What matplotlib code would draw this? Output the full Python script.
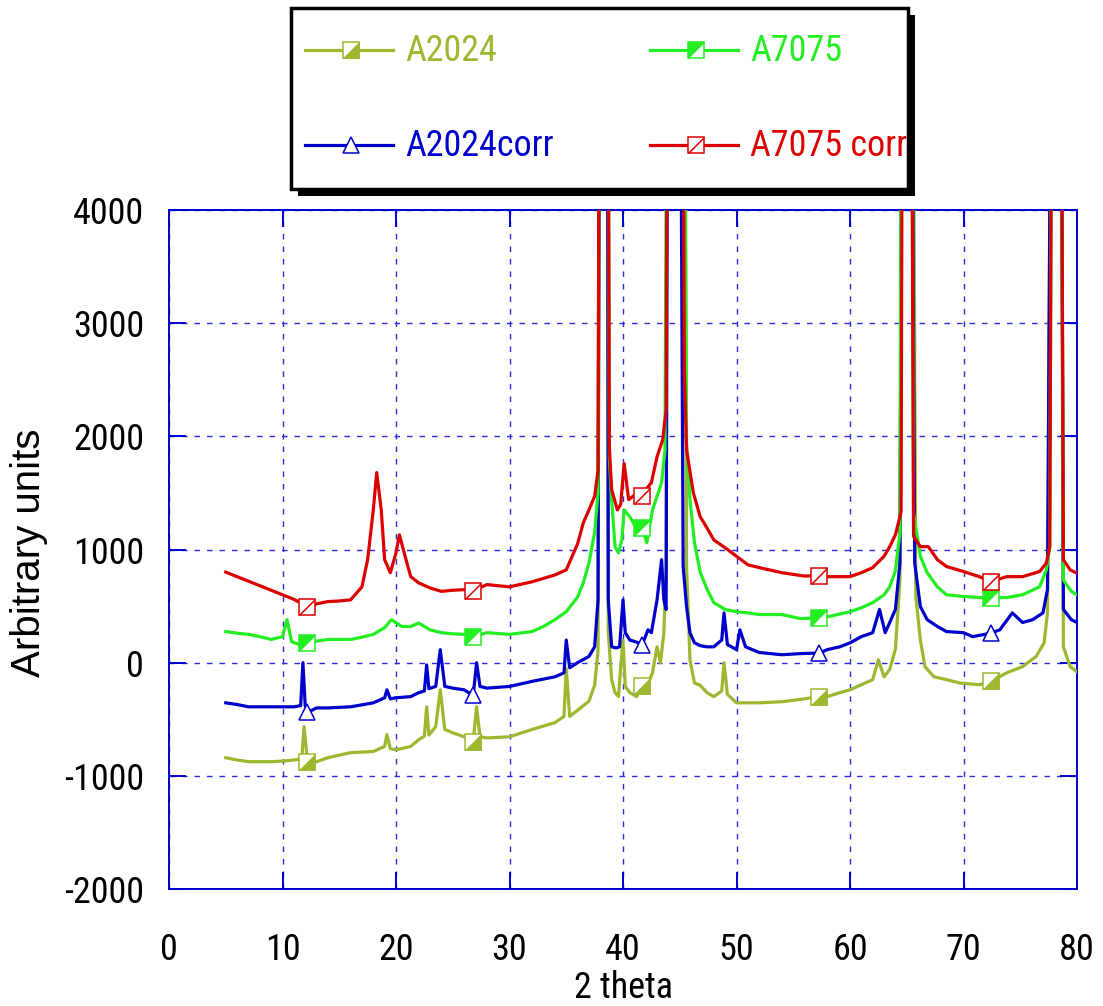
import numpy as np
import matplotlib
matplotlib.use("Agg")
import matplotlib.pyplot as plt
from matplotlib import font_manager as fm
from matplotlib.path import Path
from matplotlib.patches import Rectangle

# ---------------- data (2 theta in degrees, intensity in arbitrary units) ----------------
MARKER_X = [12.2, 26.8, 41.7, 57.3, 72.4]

a7075corr_x = [5, 6, 7, 8, 9, 10, 11, 12.2, 13, 14, 15, 16, 17, 17.5, 18, 18.3, 18.7, 19, 19.5, 20,
               20.3, 20.8, 21.3, 22, 23, 24, 25, 26, 26.8, 28, 30, 32, 34, 35, 36, 36.5, 37, 37.5,
               37.8, 38.0, 38.6, 38.8, 39.0, 39.5, 39.8, 40.1, 40.5, 41.0, 41.7, 42.0, 42.5, 43.0,
               43.5, 43.8, 44.0, 45.2, 45.4, 45.6, 46.2, 46.8, 47.4, 48, 49, 50, 51, 52, 54, 56,
               57.3, 58, 60, 61, 62, 63, 63.5, 64, 64.5, 64.7, 65.3, 65.6, 66.2, 66.9, 67.7, 68.5,
               70, 71.4, 72.4, 73.8, 75.2, 76.7, 77.3, 77.6, 77.9, 78.5, 78.8, 79.4, 80]
a7075corr_y = [800, 760, 720, 680, 640, 600, 560, 495, 520, 540, 545, 555, 670, 910, 1350, 1680, 1350,
               910, 795, 970, 1130, 940, 760, 705, 660, 630, 640, 645, 635, 690, 670, 715, 775, 820,
               1050, 1235, 1350, 1470, 1700, 9000, 9000, 1900, 1530, 1350, 1400, 1760, 1440, 1480,
               1475, 1530, 1590, 1820, 1970, 2240, 9000, 9000, 2600, 1880, 1500, 1290, 1190, 1085,
               1015, 940, 865, 840, 795, 765, 770, 760, 760, 795, 840, 940, 1025, 1130, 1330, 9000,
               9000, 1115, 1025, 1025, 910, 850, 805, 760, 715, 760, 760, 805, 880, 1025, 9000, 9000,
               910, 820, 790]

a7075_x = [5, 6, 7, 8, 9, 10, 10.4, 10.8, 11.5, 12.2, 13, 14, 15, 16, 17, 18, 19, 19.6, 20.5, 21.3,
           22, 23, 24, 25, 26, 26.8, 28, 30, 32, 33, 34, 35, 36, 36.5, 37, 37.5, 37.8, 38.0, 38.6,
           38.8, 39.0, 39.3, 39.6, 39.9, 40.1, 40.6, 41.1, 41.7, 42.1, 42.6, 43.0, 43.4, 43.7, 44.0,
           45.2, 45.6, 45.9, 46.3, 46.8, 47.4, 48, 49, 50, 51, 52, 54, 55.6, 57.3, 58, 60, 61, 62,
           63, 63.5, 64, 64.4, 64.6, 65.3, 65.6, 66.2, 66.8, 67.7, 68.5, 70, 71.4, 72.4, 73.8, 75.2,
           76.7, 77.3, 77.6, 77.9, 78.5, 78.8, 79.5, 80]
a7075_y = [275, 260, 250, 230, 205, 230, 380, 185, 160, 170, 190, 205, 205, 205, 225, 250, 310, 380,
           320, 320, 350, 290, 265, 255, 250, 230, 265, 250, 275, 320, 380, 450, 580, 705, 880, 1150,
           1500, 9000, 9000, 1800, 1440, 1025, 970, 1085, 1350, 1290, 1200, 1190, 1060, 1350, 1470,
           1590, 1880, 9000, 9000, 1940, 1440, 1060, 800, 650, 530, 470, 450, 440, 425, 425, 390, 395,
           405, 450, 485, 530, 600, 670, 810, 1150, 9000, 9000, 1325, 940, 795, 670, 600, 585, 575,
           575, 575, 600, 670, 820, 1025, 9000, 9000, 730, 630, 600]

a2024corr_x = [5, 6, 7, 8, 9, 10, 11, 11.6, 11.8, 12.0, 12.2, 13, 14, 16, 18, 19, 19.2, 19.5, 20,
               21.3, 22, 22.5, 22.7, 22.9, 23.5, 23.9, 24.3, 25, 26, 26.8, 27.1, 27.4, 28, 30, 32,
               34, 34.8, 35.0, 35.3, 36, 37, 37.5, 37.8, 38.0, 38.6, 38.7, 39.0, 39.4, 39.7, 40.0,
               40.2, 40.6, 41.1, 41.7, 42.2, 42.5, 43.0, 43.4, 43.6, 43.8, 44.0, 44.9, 45.3, 45.6,
               45.9, 46.3, 46.8, 47.4, 48, 48.7, 48.9, 49.2, 50, 50.3, 50.8, 52, 54, 55.6, 57.3, 58,
               59.1, 60, 61, 62, 62.6, 63.1, 63.5, 64, 64.4, 64.7, 65.3, 65.7, 66.2, 66.8, 67.7,
               68.5, 70, 70.8, 72.4, 73.2, 74.3, 75.2, 76.1, 77, 77.4, 77.9, 78.5, 78.8, 79.5, 80]
a2024corr_y = [-355, -370, -390, -390, -390, -390, -390, -380, 0, -380, -440, -400, -400, -390, -355,
               -310, -240, -320, -310, -300, -265, -250, -20, -230, -210, 115, -210, -225, -240, -290,
               0, -210, -225, -210, -165, -125, -90, 200, -45, 0, 55, 140, 555, 9000, 9000, 555, 140,
               130, 140, 555, 265, 200, 185, 160, 290, 265, 555, 910, 555, 470, 9000, 9000, 850, 495,
               265, 175, 150, 140, 140, 200, 440, 160, 115, 290, 140, 90, 70, 80, 85, 115, 140, 175,
               230, 265, 470, 265, 355, 470, 880, 9000, 9000, 880, 495, 380, 320, 275, 265, 230, 260,
               290, 440, 355, 380, 440, 645, 9000, 9000, 470, 380, 355]

a2024_x = [5, 6, 7, 8, 9, 10, 11, 11.7, 11.9, 12.2, 13, 14, 16, 18, 19, 19.2, 19.5, 20, 21.3, 22,
           22.5, 22.7, 22.9, 23.5, 23.9, 24.3, 25, 26, 26.8, 27.1, 27.4, 28, 30, 32, 34, 34.8, 35.0,
           35.3, 36, 37, 37.5, 37.8, 38.0, 38.6, 38.7, 39.0, 39.3, 39.6, 39.8, 40.0, 40.2, 40.6, 41.2,
           41.7, 42.1, 42.6, 43.0, 43.3, 43.6, 43.8, 44.0, 45.4, 45.6, 45.9, 46.3, 46.8, 47.4, 48,
           48.7, 48.9, 49.2, 50, 51, 52, 54, 55.6, 57.3, 58, 59.1, 60, 61, 62, 62.5, 63.0, 63.5, 64,
           64.4, 64.7, 65.4, 65.8, 66.2, 66.6, 67.4, 68.5, 69.7, 71.4, 72.4, 73.8, 75.2, 76.4, 77.1,
           77.4, 77.9, 78.5, 78.8, 79.4, 80]
a2024_y = [-840, -860, -875, -875, -875, -870, -860, -850, -565, -875, -875, -840, -795, -785, -740,
           -635, -760, -770, -740, -680, -650, -390, -640, -565, -240, -590, -620, -655, -705, -390,
           -655, -665, -655, -590, -530, -475, -50, -475, -420, -340, -200, 100, 9000, 9000, 265,
           -150, -265, -300, -35, 200, -210, -265, -300, -210, -210, -90, 140, 0, 265, 850, 9000,
           9000, 850, 25, -180, -200, -265, -300, -250, 0, -280, -355, -355, -355, -345, -325, -300,
           -300, -265, -240, -195, -150, 25, -125, -60, 120, 730, 9000, 9000, 585, 200, -35, -125,
           -150, -180, -195, -165, -90, -35, 55, 175, 440, 9000, 9000, 140, -35, -80]

series_labels = ["A2024", "A7075", "A2024corr", "A7075 corr"]
x_ticks = [0, 10, 20, 30, 40, 50, 60, 70, 80]
y_ticks = [-2000, -1000, 0, 1000, 2000, 3000, 4000]

# ---------------- fonts ----------------
_installed = {f.name for f in fm.fontManager.ttflist}
_narrow = next((n for n in ["Liberation Sans Narrow", "Arial Narrow", "Nimbus Sans Narrow",
                            "Roboto Condensed", "Open Sans Condensed"] if n in _installed), None)
if _narrow:
    FAMILY = [_narrow, "DejaVu Sans"]
    FS = 26
else:
    FAMILY = ["Liberation Sans", "DejaVu Sans"]
    FS = 23
plt.rcParams["font.family"] = FAMILY

# ---------------- styling ----------------
OLIVE = "#9cb82e"
GREEN = "#22ee22"
BLUE = "#0000cc"
RED = "#dd0000"
GRID_BLUE = "#2a2ae0"

W, H = 1103, 1006
fig = plt.figure(figsize=(W / 100, H / 100), dpi=100)
ax = fig.add_axes([169 / W, 1 - 889 / H, (1077 - 169) / W, (889 - 210) / H])

MS = 11.5   # marker size in points
MEW = 1.1
LW = 2.3

TRI_BR = Path([(-1, -1), (1, -1), (1, 1), (-1, -1)])   # lower-right half of a square
TRI_TL = Path([(-1, -1), (-1, 1), (1, 1), (-1, -1)])   # upper-left half of a square
DIAG = Path([(-1, -1), (1, 1)], [Path.MOVETO, Path.LINETO])


def draw_marker(axis, xs, ys, color, kind, zorder):
    if kind == "tri":
        axis.plot(xs, ys, ls="none", marker="^", ms=MS, mfc="white", mec=color,
                  mew=MEW, zorder=zorder)
        return
    axis.plot(xs, ys, ls="none", marker="s", ms=MS, mfc="white", mec=color,
              mew=MEW, zorder=zorder)
    if kind == "br":
        axis.plot(xs, ys, ls="none", marker=TRI_BR, ms=MS, mfc=color, mec=color,
                  mew=0.5, zorder=zorder + 0.1)
    elif kind == "tl":
        axis.plot(xs, ys, ls="none", marker=TRI_TL, ms=MS, mfc=color, mec=color,
                  mew=0.5, zorder=zorder + 0.1)
    elif kind == "diag":
        axis.plot(xs, ys, ls="none", marker=DIAG, ms=MS, mfc="none", mec=color,
                  mew=MEW, zorder=zorder + 0.1)


series = [
    (a2024_x, a2024_y, OLIVE, "br", series_labels[0]),
    (a2024corr_x, a2024corr_y, BLUE, "tri", series_labels[2]),
    (a7075_x, a7075_y, GREEN, "tl", series_labels[1]),
    (a7075corr_x, a7075corr_y, RED, "diag", series_labels[3]),
]

for i, (xs, ys, color, kind, label) in enumerate(series):
    xs = np.asarray(xs, float)
    ys = np.asarray(ys, float)
    assert len(xs) == len(ys), label
    z = 3 + i
    ax.plot(xs, ys, color=color, lw=LW, zorder=z)
    idx = [int(np.argmin(np.abs(xs - m))) for m in MARKER_X]
    draw_marker(ax, xs[idx], ys[idx], color, kind, z + 0.5)

ax.set_xlim(0, 80)
ax.set_ylim(-2000, 4000)
ax.set_xticks(x_ticks)
ax.set_yticks(y_ticks)
ax.set_xticklabels([str(t) for t in x_ticks])
ax.set_yticklabels([str(t) for t in y_ticks])

ax.grid(True, color=GRID_BLUE, lw=1.0, ls=(0, (4, 5)), zorder=1)
for sp in ax.spines.values():
    sp.set_color(BLUE)
    sp.set_linewidth(1.4)
ax.tick_params(axis="both", direction="in", length=12, width=1.4, color=BLUE,
               top=True, right=True, labelsize=FS, labelcolor="black")
ax.tick_params(axis="x", pad=31)
ax.tick_params(axis="y", pad=18)

ax.set_xlabel("2 theta", fontsize=FS, labelpad=0)
ax.xaxis.set_label_coords(0.5, -0.120)
ax.set_ylabel("Arbitrary units", fontsize=FS + 3, family=["Liberation Sans", "DejaVu Sans"])
ax.yaxis.set_label_coords(-0.133, 0.495)

# ---------------- legend box (pixel coordinates) ----------------
lax = fig.add_axes([0, 0, 1, 1], zorder=10)
lax.set_xlim(0, W)
lax.set_ylim(H, 0)
lax.axis("off")
lax.add_patch(Rectangle((298, 15), 617, 181, facecolor="black", edgecolor="none"))
lax.add_patch(Rectangle((291, 8), 617, 181, facecolor="white", edgecolor="black", lw=2.5))

legend_rows = [
    (series_labels[0], OLIVE, "br", 305, 50),
    (series_labels[1], GREEN, "tl", 650, 50),
    (series_labels[2], BLUE, "tri", 305, 145),
    (series_labels[3], RED, "diag", 650, 145),
]
for label, color, kind, x0, y0 in legend_rows:
    lax.plot([x0, x0 + 88], [y0, y0], color=color, lw=LW)
    draw_marker(lax, [x0 + 46], [y0], color, kind, 12)
    lax.text(x0 + 100, y0 + 1, label, color=color, fontsize=FS, va="center", ha="left")

fig.savefig("out.png", dpi=100)
